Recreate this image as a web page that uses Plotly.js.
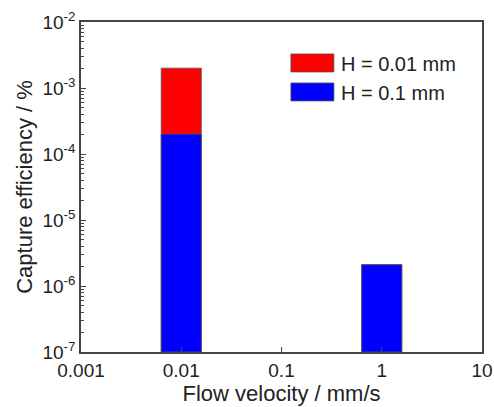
<!DOCTYPE html>
<html><head><meta charset="utf-8">
<script src="https://cdn.plot.ly/plotly-3.0.1.min.js"></script>
<style>html,body{margin:0;padding:0;background:#fff}#chart{width:494px;height:407px}</style>
</head><body><div id="chart"></div>
<script>
// Data
const flowVelocity = [0.01, 1];                 // mm/s
const captureH001 = [2e-3, 2e-6];               // H = 0.01 mm, %
const captureH01 = [2e-4, 2e-6];                // H = 0.1 mm, %
const seriesNames = ['H = 0.01 mm', 'H = 0.1 mm'];
const yTickVals = [1e-7, 1e-6, 1e-5, 1e-4, 1e-3, 1e-2];
const yTickText = ['10<sup>-7</sup>','10<sup>-6</sup>','10<sup>-5</sup>','10<sup>-4</sup>','10<sup>-3</sup>','10<sup>-2</sup>'];
const xTickVals = [0.001, 0.01, 0.1, 1, 10];
const xTickText = ['0.001', '0.01', '0.1', '1', '10'];

// bar spans +/- 0.2 decade on the log x axis
const halfDec = Math.pow(10, 0.2);
const offs = flowVelocity.map(v => v / halfDec - v);
const wids = flowVelocity.map(v => v * halfDec - v / halfDec);

const font = 'Liberation Sans, Arial, sans-serif';
const barLine = {color: '#555', width: 0.8};

const traces = [
  {type: 'bar', x: flowVelocity, y: captureH001, base: 1e-7, offset: offs, width: wids,
   name: seriesNames[0], marker: {color: '#ff0000', line: barLine}},
  {type: 'bar', x: flowVelocity, y: captureH01, base: 1e-7, offset: offs, width: wids,
   name: seriesNames[1], marker: {color: '#0000ff', line: barLine}}
];

const axColor = '#444';
const txt = '#222';
const layout = {
  width: 494, height: 407,
  margin: {l: 81, r: 12, t: 22, b: 55},
  paper_bgcolor: '#fff', plot_bgcolor: '#fff',
  barmode: 'overlay',
  showlegend: true,
  font: {family: font, color: txt},
  legend: {x: 0.506, y: 0.935, xanchor: 'left', yanchor: 'top', bgcolor: 'rgba(0,0,0,0)',
           font: {family: font, size: 20, color: txt}, traceorder: 'normal',
           itemwidth: 47, tracegroupgap: 0},
  xaxis: {type: 'log', range: [-3, 1], tickvals: xTickVals, ticktext: xTickText,
          ticks: 'inside', ticklen: 5, tickwidth: 1.2, tickcolor: axColor,
          showline: true, linecolor: axColor, linewidth: 1.5, mirror: true,
          showgrid: false, zeroline: false,
          tickfont: {family: font, size: 19, color: txt},
          title: {text: 'Flow velocity / mm/s', font: {family: font, size: 22, color: txt}, standoff: 4}},
  yaxis: {type: 'log', range: [-7, -2], tickvals: yTickVals, ticktext: yTickText,
          ticks: 'inside', ticklen: 5, tickwidth: 1.2, tickcolor: axColor,
          minor: {ticks: 'inside', ticklen: 3, tickcolor: axColor, tickwidth: 0.8, dtick: 'D1', showgrid: false},
          showline: true, linecolor: axColor, linewidth: 1.5, mirror: true,
          showgrid: false, zeroline: false,
          tickfont: {family: font, size: 19, color: txt},
          title: {text: 'Capture efficiency / %', font: {family: font, size: 22, color: txt}, standoff: 4}}
};

Plotly.newPlot('chart', traces, layout, {displayModeBar: false}).then(function(gd){
  // widen legend swatches to rectangles like the original
  document.querySelectorAll('.legend .legendpoints path').forEach(function(p){
    p.setAttribute('d', 'M-21.5,-9H21.5V9H-21.5Z');
  });
});
</script></body></html>
